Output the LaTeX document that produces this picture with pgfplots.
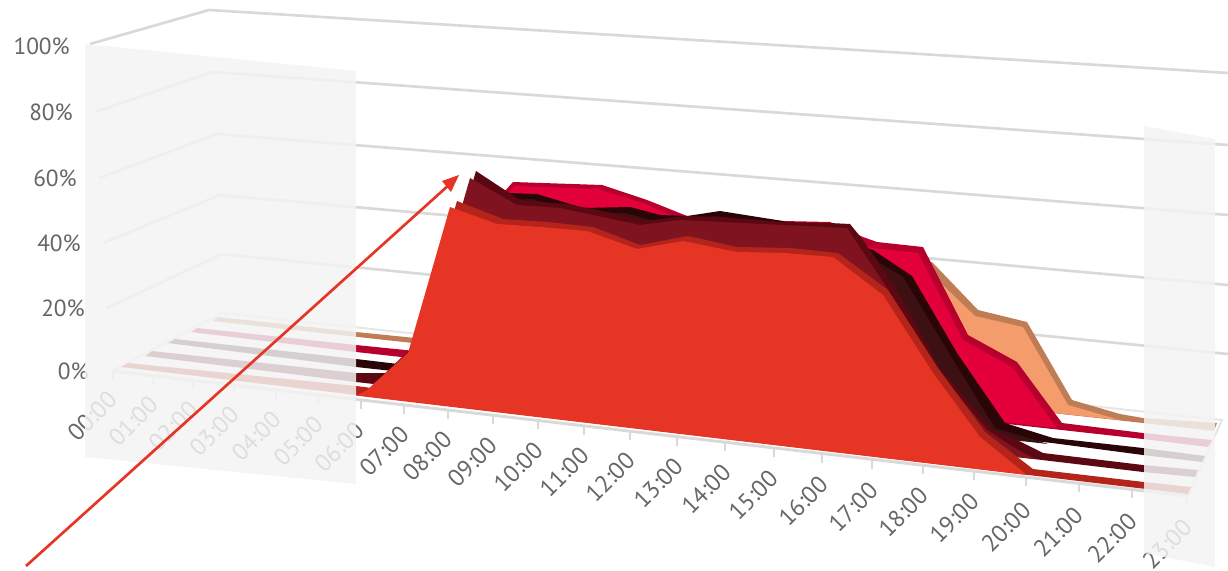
\documentclass[border=0pt]{standalone}
\usepackage{pgfplots}
\pgfplotsset{compat=1.18}
\usepackage{fontspec}
\setmainfont{PT Sans}
\definecolor{gridc}{HTML}{D9D9D9}
\definecolor{floorl}{HTML}{E6E6E6}
\definecolor{panel}{HTML}{F3F3F3}
\definecolor{lab}{HTML}{666666}
\definecolor{oB}{HTML}{C07C55}\definecolor{oF}{HTML}{F49C6C}
\definecolor{rB}{HTML}{B8002F}\definecolor{rF}{HTML}{E4003A}
\definecolor{kB}{HTML}{2A0508}\definecolor{kF}{HTML}{3D1014}
\definecolor{mB}{HTML}{5C0813}\definecolor{mF}{HTML}{7F1420}
\definecolor{fB}{HTML}{B5241A}\definecolor{fF}{HTML}{E73525}
\begin{document}
\begin{tikzpicture}
\begin{axis}[scale only axis,width=921pt,height=428.25pt,xmin=0,xmax=1228,ymin=0,ymax=571,y dir=reverse,hide axis,clip=true]
\path (axis cs:0,0) rectangle (axis cs:1228,571);
% grid
\addplot[gridc,line width=2pt] coordinates {(90,44)(209,10)(1228,73)};
\addplot[gridc,line width=2pt] coordinates {(95,112)(213,72)(1228,145)};
\addplot[gridc,line width=2pt] coordinates {(99,178)(217,134)(1228,215)};
\addplot[gridc,line width=2pt] coordinates {(103,243)(220,195)(1228,285)};
\addplot[gridc,line width=2pt] coordinates {(107,308)(222,254)(1228,354)};
% floor
\addplot[floorl,line width=1.5pt] coordinates {(112,371)(222,313)(1222,420)(1188,496)};
\addplot[gridc,line width=2.2pt] coordinates {(112,371)(1188,496)};
\addplot[gridc,line width=1.5pt] coordinates {(113,371)(113,380)};
\addplot[gridc,line width=1.5pt] coordinates {(153,376)(153,385)};
\addplot[gridc,line width=1.5pt] coordinates {(193,380)(193,389)};
\addplot[gridc,line width=1.5pt] coordinates {(234,385)(234,394)};
\addplot[gridc,line width=1.5pt] coordinates {(276,390)(276,399)};
\addplot[gridc,line width=1.5pt] coordinates {(318,395)(318,404)};
\addplot[gridc,line width=1.5pt] coordinates {(361,400)(361,409)};
\addplot[gridc,line width=1.5pt] coordinates {(404,405)(404,414)};
\addplot[gridc,line width=1.5pt] coordinates {(448,410)(448,419)};
\addplot[gridc,line width=1.5pt] coordinates {(493,415)(493,424)};
\addplot[gridc,line width=1.5pt] coordinates {(538,420)(538,429)};
\addplot[gridc,line width=1.5pt] coordinates {(584,426)(584,435)};
\addplot[gridc,line width=1.5pt] coordinates {(630,431)(630,440)};
\addplot[gridc,line width=1.5pt] coordinates {(677,437)(677,446)};
\addplot[gridc,line width=1.5pt] coordinates {(725,442)(725,451)};
\addplot[gridc,line width=1.5pt] coordinates {(774,448)(774,457)};
\addplot[gridc,line width=1.5pt] coordinates {(822,454)(822,463)};
\addplot[gridc,line width=1.5pt] coordinates {(872,460)(872,469)};
\addplot[gridc,line width=1.5pt] coordinates {(923,465)(923,474)};
\addplot[gridc,line width=1.5pt] coordinates {(974,471)(974,480)};
\addplot[gridc,line width=1.5pt] coordinates {(1026,477)(1026,486)};
\addplot[gridc,line width=1.5pt] coordinates {(1079,483)(1079,492)};
\addplot[gridc,line width=1.5pt] coordinates {(1132,489)(1132,498)};
\addplot[gridc,line width=1.5pt] coordinates {(1187,496)(1187,505)};
% orange
\addplot[fill=oB,draw=none] coordinates {(218,317)(356,332)(425,339)(500,240)(700,240)(900,262)(932,262)(978,310)(1027,322)(1072,400)(1120,414)(1143,418)(1217,423)(1214,431)(1143,423)(212,321)} --cycle;
\addplot[fill=oF,draw=none] coordinates {(500,250)(700,250)(905,268)(925,268)(975,316)(1023,327)(1068,405)(1120,420)(430,346)} --cycle;
% red
\addplot[fill=rB,draw=none] coordinates {(197,328)(356,345)(425,352)(490,240)(504,192)(513,182)(602,185)(647,200)(687,216)(783,221)(830,222)(863,237)(877,242)(923,247)(968,335)(1017,362)(1062,423)(1143,433)(1212,440)(1208,447)(1143,439)(356,352)(191,332)} --cycle;
\addplot[fill=rF,draw=none] coordinates {(490,250)(508,194)(515,186)(597,189)(643,203)(673,216)(780,226)(850,235)(872,248)(918,253)(963,340)(1012,367)(1057,428)(430,359)} --cycle;
% black
\addplot[fill=kB,draw=none] coordinates {(175,339)(356,359)(415,366)(478,230)(508,193)(537,194)(583,208)(630,207)(660,215)(687,216)(720,211)(783,221)(873,250)(912,276)(957,353)(1005,423)(1053,438)(1143,448)(1205,456)(1202,462)(1143,455)(1052,443)(356,367)(168,343)} --cycle;
\addplot[fill=kF,draw=none] coordinates {(478,240)(503,200)(532,199)(578,214)(625,213)(655,221)(682,222)(715,216)(778,227)(868,256)(903,277)(950,355)(995,428)(1048,444)(430,376)} --cycle;
% maroon
\addplot[fill=mB,draw=none] coordinates {(152,351)(356,373)(390,373)(430,325)(476,171)(520,200)(565,204)(598,210)(645,221)(685,216)(720,217)(783,222)(830,223)(850,224)(863,240)(895,287)(940,368)(993,430)(1017,440)(1043,453)(1143,465)(1198,470)(1195,477)(1143,472)(1042,460)(356,382)(145,356)} --cycle;
\addplot[fill=mF,draw=none] coordinates {(372,384)(380,378)(425,335)(470,178)(517,205)(560,208)(593,215)(640,225)(680,220)(720,222)(783,225)(847,228)(887,288)(935,368)(987,430)(1013,447)(1035,459)} --cycle;
% front
\addplot[fill=fB,draw=none] coordinates {(128,363)(356,386)(372,388)(414,348)(457,201)(503,219)(548,222)(593,227)(640,245)(688,236)(737,247)(790,248)(838,253)(888,290)(938,368)(985,432)(1033,469)(1144,482)(1191,487)(1188,494)(121,367)} --cycle;
\addplot[fill=fF,draw=none] coordinates {(356,395.6)(367,390)(408,353)(450,207)(497,224)(541,227)(587,231)(637,249)(683,241)(737,252)(785,253)(833,257)(883,295)(933,373)(980,437)(1027,475)} --cycle;
% labels
\begin{scope}[every node/.style={font=\fontsize{17.5pt}{18pt}\selectfont,text=lab,inner sep=0pt}]
\node[anchor=east] at (axis cs:70,46) {100\%};
\node[anchor=east] at (axis cs:73,112) {80\%};
\node[anchor=east] at (axis cs:77,178) {60\%};
\node[anchor=east] at (axis cs:81,243) {40\%};
\node[anchor=east] at (axis cs:85,308) {20\%};
\node[anchor=east] at (axis cs:89,371) {0\%};
\end{scope}
\begin{scope}[every node/.style={font=\fontsize{18pt}{19pt}\selectfont,text=lab,inner sep=0pt,rotate=45}]
\node at (axis cs:92,416) {00:00};
\node at (axis cs:133,421) {01:00};
\node at (axis cs:173,426) {02:00};
\node at (axis cs:214,431) {03:00};
\node at (axis cs:256,436) {04:00};
\node at (axis cs:298,441) {05:00};
\node at (axis cs:339,447) {06:00};
\node at (axis cs:384,451) {07:00};
\node at (axis cs:427,456) {08:00};
\node at (axis cs:472,462) {09:00};
\node at (axis cs:518,467) {10:00};
\node at (axis cs:564,472) {11:00};
\node at (axis cs:610,477) {12:00};
\node at (axis cs:658,483) {13:00};
\node at (axis cs:706,489) {14:00};
\node at (axis cs:753,495) {15:00};
\node at (axis cs:803,501) {16:00};
\node at (axis cs:853,507) {17:00};
\node at (axis cs:903,512) {18:00};
\node at (axis cs:954,518) {19:00};
\node at (axis cs:1006,527) {20:00};
\node at (axis cs:1058,532) {21:00};
\node at (axis cs:1112,538) {22:00};
\node at (axis cs:1167,544) {23:00};
\end{scope}
% translucent panels
\addplot[fill=panel,fill opacity=.85,draw=none] coordinates {(85,44)(356,71)(356,484)(85,457)} --cycle;
\addplot[fill=panel,fill opacity=.85,draw=none] coordinates {(1144,126)(1215,139)(1215,567)(1144,553)} --cycle;
% arrow
\addplot[fF,line width=2pt] coordinates {(26,566)(450,184)};
\addplot[fill=fF,draw=none] coordinates {(459,175)(442,181)(451,192)} --cycle;
\end{axis}
\end{tikzpicture}
\end{document}
